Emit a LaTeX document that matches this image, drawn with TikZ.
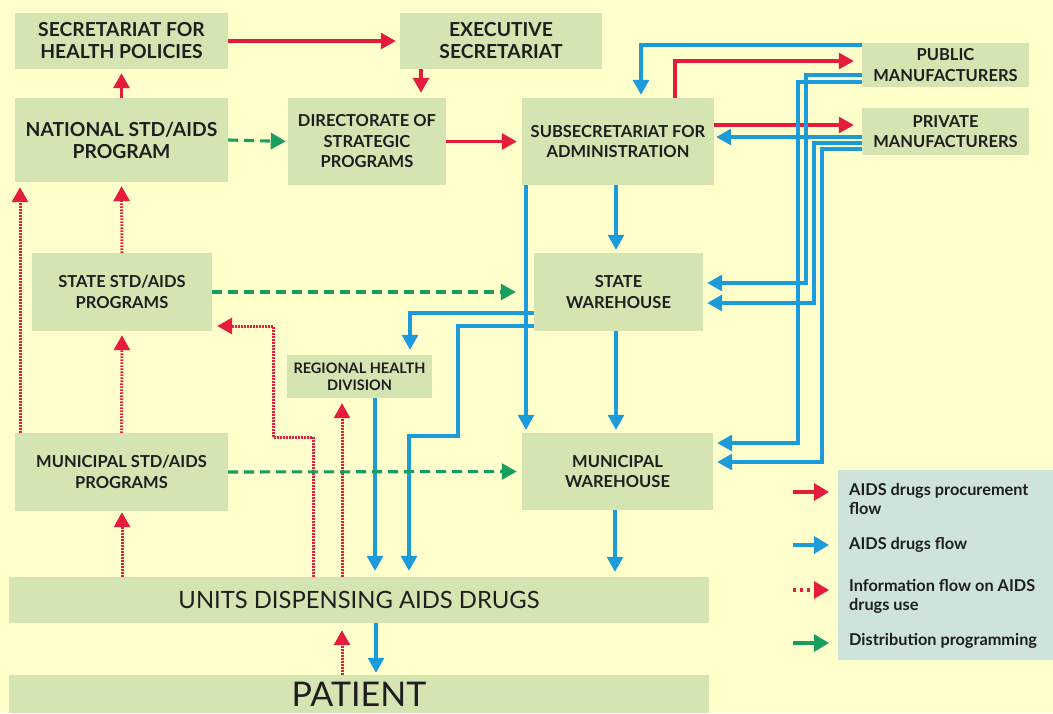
\documentclass[tikz,border=0pt]{standalone}
\usepackage{fontspec}
\setmainfont{Lato}
\usetikzlibrary{arrows.meta}
\definecolor{bg}{RGB}{255,255,204}
\definecolor{boxg}{RGB}{213,229,178}
\definecolor{legb}{RGB}{206,228,218}
\definecolor{myred}{RGB}{230,28,60}
\definecolor{myblue}{RGB}{28,155,219}
\definecolor{mygreen}{RGB}{24,158,94}
\definecolor{ink}{RGB}{30,30,30}
\begin{document}
\begin{tikzpicture}[x=1pt,y=-1pt,
 box/.style={fill=boxg, inner sep=0pt, align=center, text=ink, font=\bfseries\fontsize{16.5}{20.5}\selectfont},
 bigbox/.style={box, font=\bfseries\fontsize{19.3}{22}\selectfont},
 smallbox/.style={box, font=\bfseries\fontsize{14.5}{17}\selectfont},
 tip/.style={-{Triangle[length=15pt,width=16pt]}},
 rarr/.style={draw=myred, line width=3.1pt, tip},
 barr/.style={draw=myblue, line width=3.1pt, tip},
 darr/.style={draw=myred, line width=3pt, dash pattern=on 1.5pt off 1.5pt, tip},
 garr/.style={draw=mygreen, line width=3.1pt, dash pattern=on 10pt off 6pt, tip},
 legtip/.style={-{Triangle[length=15pt,width=17pt]}, line width=3.3pt},
 leg/.style={anchor=west, align=left, text=ink, inner sep=0pt, font=\bfseries\fontsize{16.3}{19}\selectfont},
]
\fill[bg] (0,0) rectangle (1053,713);
\useasboundingbox (0,0) rectangle (1053,713);

% boxes
\node[bigbox, minimum width=213, minimum height=56] (sec) at (121.5,41) {SECRETARIAT FOR\\HEALTH POLICIES};
\node[bigbox, minimum width=202, minimum height=56] (exec) at (501,41) {EXECUTIVE\\SECRETARIAT};
\node[bigbox, minimum width=213, minimum height=84] (nat) at (121.5,140) {NATIONAL STD/AIDS\\PROGRAM};
\node[box, minimum width=158, minimum height=87] (dir) at (367,141.5) {DIRECTORATE OF\\STRATEGIC\\PROGRAMS};
\node[box, minimum width=192, minimum height=87] (sub) at (618,141.5) {SUBSECRETARIAT FOR\\ADMINISTRATION};
\node[box, minimum width=167, minimum height=44] (pub) at (945.5,65) {PUBLIC\\MANUFACTURERS};
\node[box, minimum width=167, minimum height=47] (priv) at (945.5,131.5) {PRIVATE\\MANUFACTURERS};
\node[box, minimum width=180, minimum height=78] (stprog) at (122,292) {STATE STD/AIDS\\PROGRAMS};
\node[box, minimum width=169, minimum height=78] (stwh) at (618.5,292) {STATE\\WAREHOUSE};
\node[smallbox, minimum width=145, minimum height=43] (reg) at (359.5,376.5) {REGIONAL HEALTH\\DIVISION};
\node[box, minimum width=213, minimum height=78] (muprog) at (121.5,472) {MUNICIPAL STD/AIDS\\PROGRAMS};
\node[box, minimum width=191, minimum height=77] (muwh) at (617.5,471.5) {MUNICIPAL\\WAREHOUSE};
\node[box, font=\fontsize{23.8}{26}\selectfont, minimum width=700, minimum height=46] (units) at (359,600) {UNITS DISPENSING AIDS DRUGS};
\node[box, font=\fontsize{34}{36}\selectfont, minimum width=700, minimum height=38] (patient) at (359,694) {PATIENT};

% legend
\fill[legb] (838,470) rectangle (1060,660);
\coordinate (l1a) at (793,492); \coordinate (l1b) at (829,492);
\coordinate (l2a) at (793,545); \coordinate (l2b) at (829,545);
\coordinate (l3a) at (793,590); \coordinate (l3b) at (829,590);
\coordinate (l4a) at (793,643); \coordinate (l4b) at (829,643);
\draw[myred, legtip] (l1a) -- (l1b);
\draw[myblue, legtip] (l2a) -- (l2b);
\draw[myred, legtip, dash pattern=on 3pt off 4pt] (l3a) -- (l3b);
\draw[mygreen, legtip] (l4a) -- (l4b);
\node[leg] (t1) at (849,499) {AIDS drugs procurement\\flow};
\node[leg] (t2) at (849,545) {AIDS drugs flow};
\node[leg] (t3) at (849,596) {Information flow on AIDS\\drugs use};
\node[leg] (t4) at (849,641) {Distribution programming};

% red procurement
\draw[rarr, shorten >=4pt] (sec.east) -- (exec.west);
\draw[rarr, shorten >=4pt] (nat.north) -- (sec.south);
\draw[rarr, shorten >=5pt] (exec.south -| 421,0) -- (dir.north -| 421,0);
\draw[rarr, shorten >=5pt] (dir.east) -- (sub.west);
\draw[rarr, shorten >=8pt] (sub.north -| 675,0) |- (pub.west |- 0,61);
\draw[rarr, shorten >=8pt] (sub.east |- 0,125) -- (priv.west |- 0,125);

% blue drug flow
\draw[barr, shorten >=3pt] (pub.west |- 0,45) -| (sub.north -| 641,0);
\draw[barr, shorten >=2pt] (priv.west |- 0,137) -- (sub.east |- 0,137);
\draw[barr, shorten >=4pt] (pub.west |- 0,82) -| (798,443) -- (muwh.east |- 0,443);
\draw[barr, shorten >=4pt] (pub.west |- 0,75) -| (806,283) -- (stwh.east |- 0,283);
\draw[barr, shorten >=4pt] (priv.west |- 0,143) -| (814,303) -- (stwh.east |- 0,303);
\draw[barr, shorten >=4pt] (priv.west |- 0,149) -| (822,462) -- (muwh.east |- 0,462);
\draw[barr, shorten >=3pt] (sub.south -| 616,0) -- (stwh.north -| 616,0);
\draw[barr, shorten >=3pt] (stwh.south -| 616,0) -- (muwh.north -| 616,0);
\draw[barr, shorten >=5pt] (muwh.south -| 615,0) -- (units.north -| 615,0);
\draw[barr, shorten >=3pt] (sub.south -| 526,0) -- (muwh.north -| 526,0);
\draw[barr, shorten >=5pt] (stwh.west |- 0,313) -| (reg.north -| 410,0);
\draw[barr, shorten >=6pt] (stwh.west |- 0,326) -| (458,436) -| (units.north -| 409,0);
\draw[barr, shorten >=6pt] (reg.south -| 375,0) -- (units.north -| 375,0);
\draw[barr, shorten >=2pt] (units.south -| 376,0) -- (patient.north -| 376,0);

% red dotted information
\draw[darr, shorten >=5pt] (units.north -| 313,0) |- (273,437) |- (stprog.east |- 0,326);
\draw[darr, shorten >=5pt] (units.north -| 342,0) -- (reg.south -| 342,0);
\draw[darr, shorten >=7pt] (patient.north -| 342,0) -- (units.south -| 342,0);
\draw[darr, shorten >=5pt] (muprog.north -| 20,0) -- (nat.south -| 20,0);
\draw[darr, shorten >=4pt] (muprog.north) -- (stprog.south);
\draw[darr, shorten >=4pt] (stprog.north) -- (nat.south);
\draw[darr, shorten >=1pt] (units.north -| 122,0) -- (muprog.south -| 122,0);

% green distribution programming
\draw[garr, shorten >=2pt] (nat.east) -- (dir.west);
\draw[garr, shorten >=18pt] (stprog.east) -- (stwh.west);
\draw[garr, shorten >=5pt] (muprog.east) -- (muwh.west);
\end{tikzpicture}
\end{document}
